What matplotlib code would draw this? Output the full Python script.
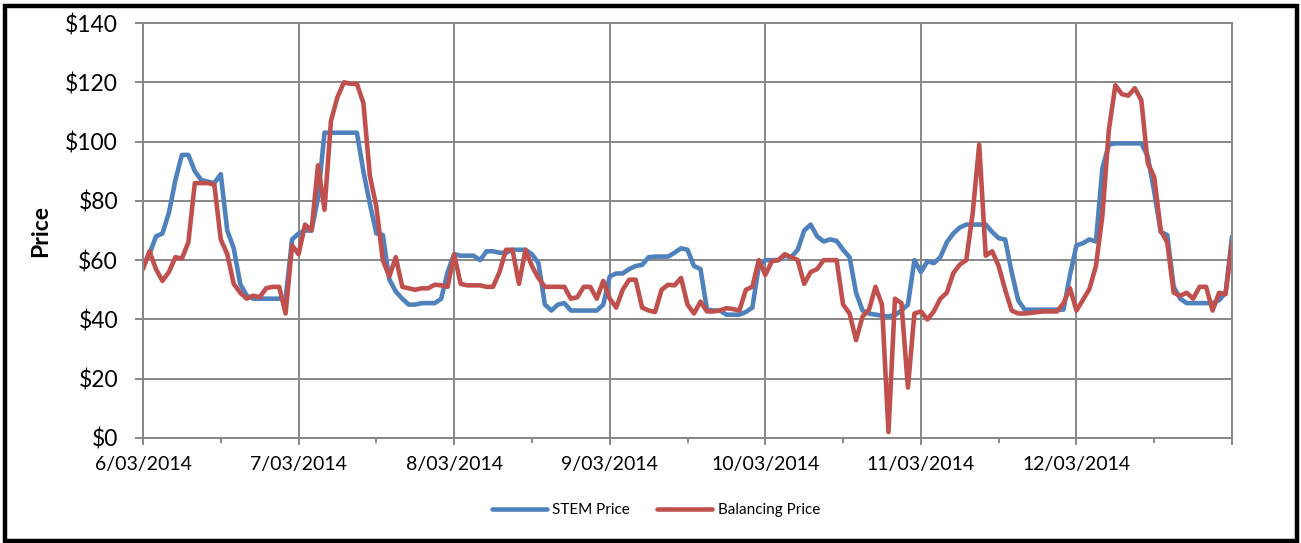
import matplotlib
matplotlib.use("Agg")
import matplotlib.pyplot as plt
import matplotlib.dates as mdates
from matplotlib.patches import Rectangle
import pandas as pd

# Hourly prices, 6/03/2014 00:00 to 13/03/2014 00:00
times = pd.date_range("2014-03-06 00:00", "2014-03-13 00:00", freq="h")

stem_price = [
    58, 62, 68, 69, 76, 87, 95.5, 95.5, 90, 87, 86.5, 86, 89, 70, 64, 52, 48, 47, 47, 47, 47, 47, 47, 67,
    69, 70, 70, 81, 103, 103, 103, 103, 103, 103, 90, 79, 69, 68.5, 53.5, 49.4, 47, 45, 45, 45.5, 45.5, 45.5, 47, 56,
    62, 61.5, 61.5, 61.5, 60, 63, 63, 62.5, 62.5, 63.5, 63.5, 63.5, 62, 59, 45, 43, 45, 45.5, 43, 43, 43, 43, 43, 45,
    54.5, 55.5, 55.5, 57, 58, 58.4, 61, 61.2, 61.2, 61.2, 62.5, 64, 63.5, 58, 57, 43.3, 43, 43, 41.6, 41.6, 41.6, 42.5, 44, 58,
    60, 60, 60, 61.5, 61, 63.5, 70, 72, 68, 66.3, 67, 66.5, 63.5, 61, 49, 43, 42, 41.6, 41.3, 41, 41.5, 43, 45, 60,
    56, 59.6, 59, 61, 66, 69, 71, 72, 72, 72, 72, 69.5, 67.4, 67, 56, 46.5, 43.3, 43.3, 43.3, 43.3, 43.3, 43.3, 43.3, 55,
    65, 65.7, 67, 66.3, 91, 99, 99.4, 99.4, 99.4, 99.4, 99.4, 95, 83, 69.5, 68.5, 51, 47, 45.5, 45.5, 45.5, 45.5, 45.5, 46.5, 49,
    68,
]

balancing_price = [
    57, 63, 57, 53, 56, 61, 60.5, 66, 86, 86, 86, 85.5, 67, 62, 52, 49, 47, 48, 47.5, 50.5, 51, 51, 42, 65,
    62, 72, 70, 92, 77, 107, 115, 120, 119.5, 119.5, 113, 88.5, 78, 60, 54.5, 61, 51, 50.5, 50, 50.5, 50.5, 51.7, 51.5, 51,
    62, 52, 51.5, 51.5, 51.5, 51, 51, 56, 63.5, 63.5, 52, 63.5, 58, 54, 51, 51, 51, 51, 47, 47.5, 51, 51, 47, 53,
    47, 44, 50, 53.4, 53.4, 44, 43, 42.5, 50, 51.7, 51.5, 54, 45, 42, 46, 42.7, 42.7, 43, 43.8, 43.5, 43, 50, 51, 60,
    55, 59.6, 60, 62, 61, 60, 52, 56, 57, 60, 60, 60, 45, 42, 33, 41, 43.3, 51, 45, 2, 47, 45.5, 17, 42,
    42.7, 40, 42.7, 47, 49, 55.6, 58.5, 60, 76, 99, 61.5, 63, 58, 50, 43, 42, 42, 42.2, 42.5, 42.7, 42.7, 42.7, 45.5, 50.5,
    43, 46.6, 50.3, 58, 75, 104, 119, 116, 115.5, 118, 114, 92.7, 88, 70, 66, 49, 48, 49, 47, 51, 51, 43, 49, 48.5,
    66,
]

y_ticks = [0, 20, 40, 60, 80, 100, 120, 140]

plt.rcParams['font.family'] = ['Lato', 'DejaVu Sans']

fig = plt.figure(figsize=(13.01, 5.43), dpi=100)
ax = fig.add_axes([0.1099, 0.1934, 0.8371, 0.7642])

ax.plot(times, stem_price, color='#4F81BD', lw=3.3, label='STEM Price',
        solid_joinstyle='round', solid_capstyle='round')
ax.plot(times, balancing_price, color='#C0504D', lw=3.3, label='Balancing Price',
        solid_joinstyle='round', solid_capstyle='round')

ax.set_xlim(times[0], times[-1])
ax.set_ylim(0, 140)
ax.set_yticks(y_ticks)
ax.yaxis.set_major_formatter(lambda v, p: f"${v:.0f}")

ax.xaxis.set_major_locator(mdates.DayLocator())
ax.xaxis.set_minor_locator(mdates.HourLocator(byhour=12))
ax.xaxis.set_major_formatter(lambda v, p: "" if v >= mdates.date2num(times[-1]) - 0.01
                             else f"{mdates.num2date(v).day}/{mdates.num2date(v):%m/%Y}")

grid_col = '#878787'
ax.grid(True, which='major', color=grid_col, lw=1.4)
ax.set_axisbelow(True)
for s in ax.spines.values():
    s.set_color(grid_col)
    s.set_linewidth(1.4)

ax.tick_params(axis='y', which='major', length=6, width=1.4, color=grid_col,
               labelsize=16.5, pad=12)
ax.tick_params(axis='x', which='major', length=5, width=1.4, color=grid_col,
               labelsize=14, pad=8)
ax.tick_params(axis='x', which='minor', length=3.5, width=1.4, color=grid_col)

ax.set_ylabel('Price', fontsize=16.5, fontweight='bold', labelpad=10)

fig.legend(loc='center', bbox_to_anchor=(0.504, 0.061), ncol=2, frameon=False,
           fontsize=11, handlelength=3.6, handletextpad=0.35, columnspacing=1.8)

# outer black frame
fig.patches.append(Rectangle((0.0035, 0.003), 0.9935, 0.986, transform=fig.transFigure,
                             fill=False, edgecolor='black', lw=3.2))

fig.savefig('out.png', dpi=100)
